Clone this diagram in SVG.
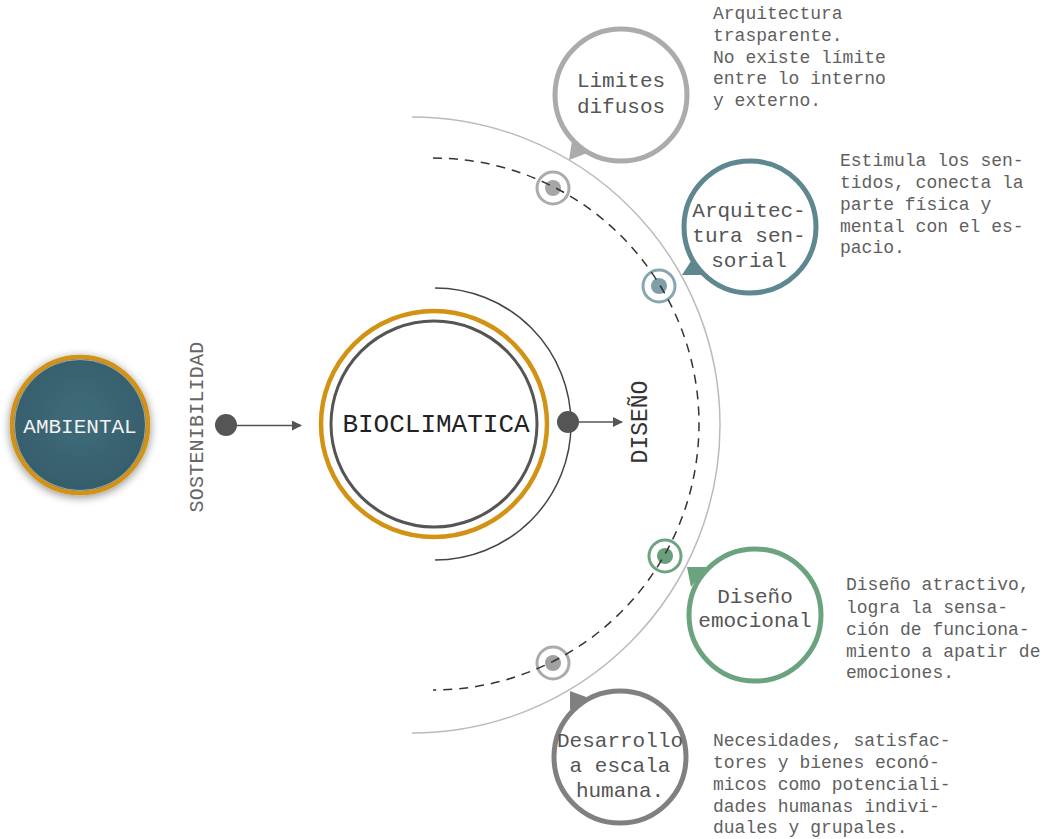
<svg xmlns="http://www.w3.org/2000/svg" width="1046" height="839" viewBox="0 0 1046 839">
<defs>
<style>
.t{font-family:"Liberation Mono","Courier New",monospace;fill:#555}
.lbl{font-family:"Liberation Mono","Courier New",monospace;fill:#555;font-size:21px;text-anchor:middle}
.desc{font-family:"Liberation Mono","Courier New",monospace;fill:#5f5f5f;font-size:18px}
.sat{fill:#fff;stroke-width:5}
.conn{fill:none}
</style>
<marker id="ah" viewBox="0 0 10 10" refX="9" refY="5" markerWidth="10" markerHeight="10" markerUnits="userSpaceOnUse" orient="auto">
<path d="M0,0 L10,5 L0,10 z" fill="#555"/>
</marker>
<filter id="sh" x="-30%" y="-30%" width="160%" height="160%">
<feGaussianBlur in="SourceAlpha" stdDeviation="5"/>
<feOffset dx="0" dy="2" result="b"/>
<feComponentTransfer><feFuncA type="linear" slope="0.45"/></feComponentTransfer>
<feMerge><feMergeNode/><feMergeNode in="SourceGraphic"/></feMerge>
</filter>
<radialGradient id="tg" cx="50%" cy="45%" r="55%">
<stop offset="0" stop-color="#3f6b79"/>
<stop offset="1" stop-color="#355e6b"/>
</radialGradient>
</defs>
<rect width="1046" height="839" fill="#fff"/>

<g id="ambiental">
<circle cx="80" cy="425" r="68" fill="url(#tg)" stroke="#d29214" stroke-width="4.5" filter="url(#sh)"/>
<circle cx="80" cy="425" r="65.5" fill="none" stroke="#c9d3d6" stroke-width="1" opacity="0.6"/>
<text x="80" y="433" class="t" style="fill:#f2f2f2;font-size:21px;text-anchor:middle">AMBIENTAL</text>
</g>

<g id="sostenibilidad">
<text transform="translate(203,427) rotate(-90)" class="t" style="font-size:20px;text-anchor:middle;fill:#666;letter-spacing:0.2px">SOSTENIBILIDAD</text>
</g>

<g id="bioclimatica">
<circle cx="434" cy="424" r="113" fill="#fff" stroke="#d29214" stroke-width="4.5"/>
<circle cx="434" cy="424" r="103" fill="none" stroke="#555" stroke-width="3"/>
<text x="436" y="432" class="t" style="font-size:26px;text-anchor:middle;fill:#222">BIOCLIMATICA</text>
</g>

<g id="diseno">
<text transform="translate(647,422) rotate(-90)" class="t" style="font-size:23px;text-anchor:middle;fill:#333">DISEÑO</text>
</g>

<g id="markers">
<circle cx="553" cy="188" r="16" fill="#fff" stroke="#ababab" stroke-width="3"/>
<circle cx="553" cy="188" r="8" fill="#a6a6a6"/>
<circle cx="659" cy="286" r="16" fill="#fff" stroke="#88a6ae" stroke-width="3"/>
<circle cx="659" cy="286" r="8" fill="#7f9ea7"/>
<circle cx="665" cy="556" r="16" fill="#fff" stroke="#6ea37f" stroke-width="3"/>
<circle cx="665" cy="556" r="8" fill="#6a9f7c"/>
<circle cx="553" cy="663" r="16" fill="#fff" stroke="#ababab" stroke-width="3"/>
<circle cx="553" cy="663" r="8" fill="#a0a0a0"/>
</g>

<g id="connectors">
<path class="conn" d="M 412 117 A 308 308 0 0 1 412 733" stroke="#bbb" stroke-width="1.5"/>
<path class="conn" d="M 433 158 A 266 266 0 0 1 433 690" stroke="#333" stroke-width="1.5" stroke-dasharray="9 7"/>
<path class="conn" d="M 435 288 A 136 136 0 0 1 435 560" stroke="#444" stroke-width="1.5"/>
<circle cx="226" cy="425" r="11" fill="#555"/>
<line x1="237" y1="425.5" x2="301" y2="425.5" stroke="#555" stroke-width="1.5" marker-end="url(#ah)"/>
<circle cx="568" cy="422" r="11" fill="#555"/>
<line x1="579" y1="422" x2="622" y2="422" stroke="#555" stroke-width="1.5" marker-end="url(#ah)"/>
</g>

<g id="limites">
<polygon points="572,141 569,160 590,152" fill="#ababab"/>
<circle cx="621" cy="95" r="66" class="sat" stroke="#ababab"/>
<text class="lbl" x="621" y="87">Limites</text>
<text class="lbl" x="621" y="113">difusos</text>
<text class="desc" x="713" y="19">Arquitectura</text>
<text class="desc" x="713" y="41">trasparente.</text>
<text class="desc" x="713" y="63">No existe límite</text>
<text class="desc" x="713" y="84">entre lo interno</text>
<text class="desc" x="713" y="106">y externo.</text>
</g>

<g id="sensorial">
<polygon points="693,258 682,275 704,275" fill="#5f8790"/>
<circle cx="750" cy="227" r="66" class="sat" stroke="#5f8790"/>
<text class="lbl" x="749" y="217">Arquitec-</text>
<text class="lbl" x="749" y="242">tura sen-</text>
<text class="lbl" x="749" y="267">sorial</text>
<text class="desc" x="840" y="166">Estimula los sen-</text>
<text class="desc" x="840" y="188">tidos, conecta la</text>
<text class="desc" x="840" y="210">parte física y</text>
<text class="desc" x="840" y="232">mental con el es-</text>
<text class="desc" x="840" y="253">pacio.</text>
</g>

<g id="emocional">
<polygon points="687,567 707,567 691,587" fill="#6ba37e"/>
<circle cx="755" cy="615" r="66" class="sat" stroke="#6ba37e"/>
<text class="lbl" x="755" y="603">Diseño</text>
<text class="lbl" x="755" y="627">emocional</text>
<text class="desc" x="846" y="590">Diseño atractivo,</text>
<text class="desc" x="846" y="613">logra la sensa-</text>
<text class="desc" x="846" y="635">ción de funciona-</text>
<text class="desc" x="846" y="657">miento a apatir de</text>
<text class="desc" x="846" y="678">emociones.</text>
</g>

<g id="desarrollo">
<polygon points="570,691 570,710 589,698" fill="#808080"/>
<circle cx="620" cy="757" r="66" class="sat" stroke="#808080"/>
<text class="lbl" x="620" y="747">Desarrollo</text>
<text class="lbl" x="620" y="772">a escala</text>
<text class="lbl" x="620" y="797">humana.</text>
<text class="desc" x="713" y="746">Necesidades, satisfac-</text>
<text class="desc" x="713" y="768">tores y bienes econó-</text>
<text class="desc" x="713" y="790">micos como potenciali-</text>
<text class="desc" x="713" y="812">dades humanas indivi-</text>
<text class="desc" x="713" y="833">duales y grupales.</text>
</g>
</svg>
